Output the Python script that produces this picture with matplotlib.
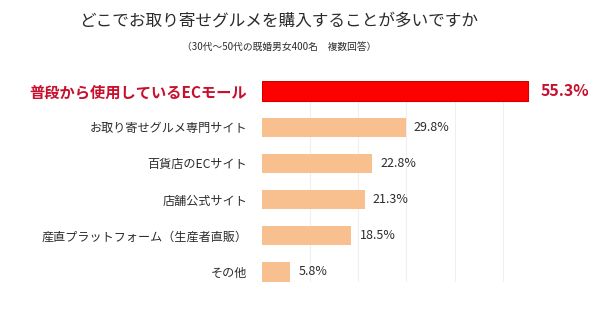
import numpy as np
import matplotlib.pyplot as plt

plt.rcParams['font.family'] = ['Noto Sans CJK JP', 'DejaVu Sans']

# 購入場所ごとの回答率（%）
labels = [
    '普段から使用しているECモール',
    'お取り寄せグルメ専門サイト',
    '百貨店のECサイト',
    '店舗公式サイト',
    '産直プラットフォーム（生産者直販）',
    'その他',
]
values = [55.3, 29.8, 22.8, 21.3, 18.5, 5.8]

title = 'どこでお取り寄せグルメを購入することが多いですか'
subtitle = '（30代〜50代の既婚男女400名　複数回答）'

red = '#ff0000'
dark_red = '#c8102e'
peach = '#f8c08f'
text_gray = '#2b2b2b'

fig = plt.figure(figsize=(6, 3.24), dpi=100)
ax = fig.add_axes([0.4367, 0.1296, 0.4816, 0.6204])

y = np.arange(len(values))
colors = [red] + [peach] * (len(values) - 1)
bars = ax.barh(y, values, height=0.54, color=colors, zorder=2)
bars[0].set_edgecolor('#d40000')
bars[0].set_linewidth(0.8)

ax.set_xlim(0, 60)
ax.set_ylim(5.28, -0.28)
ax.set_xticks(np.arange(10, 61, 10))
ax.grid(axis='x', color='#efefef', linewidth=0.8, zorder=0)
ax.tick_params(left=False, bottom=False, labelbottom=False)
for s in ax.spines.values():
    s.set_visible(False)

ax.set_yticks(y)
ax.set_yticklabels(labels)
for i, t in enumerate(ax.get_yticklabels()):
    if i == 0:
        t.set_color(dark_red)
        t.set_fontsize(11)
        t.set_fontweight('bold')
    else:
        t.set_color(text_gray)
        t.set_fontsize(8.7)
ax.tick_params(axis='y', pad=7)

for i, v in enumerate(values):
    if i == 0:
        ax.annotate(f'{v}%', (v, i), xytext=(9, 0), textcoords='offset points',
                    va='center', ha='left', fontsize=11.5, color=dark_red,
                    fontweight='bold')
    else:
        ax.annotate(f'{v}%', (v, i), xytext=(6, 0), textcoords='offset points',
                    va='center', ha='left', fontsize=9, color=text_gray)

fig.text(0.465, 0.935, title, ha='center', va='center', fontsize=12,
         color=text_gray)
fig.text(0.465, 0.855, subtitle, ha='center', va='center', fontsize=7,
         color=text_gray)

fig.savefig('out.png', dpi=100)
